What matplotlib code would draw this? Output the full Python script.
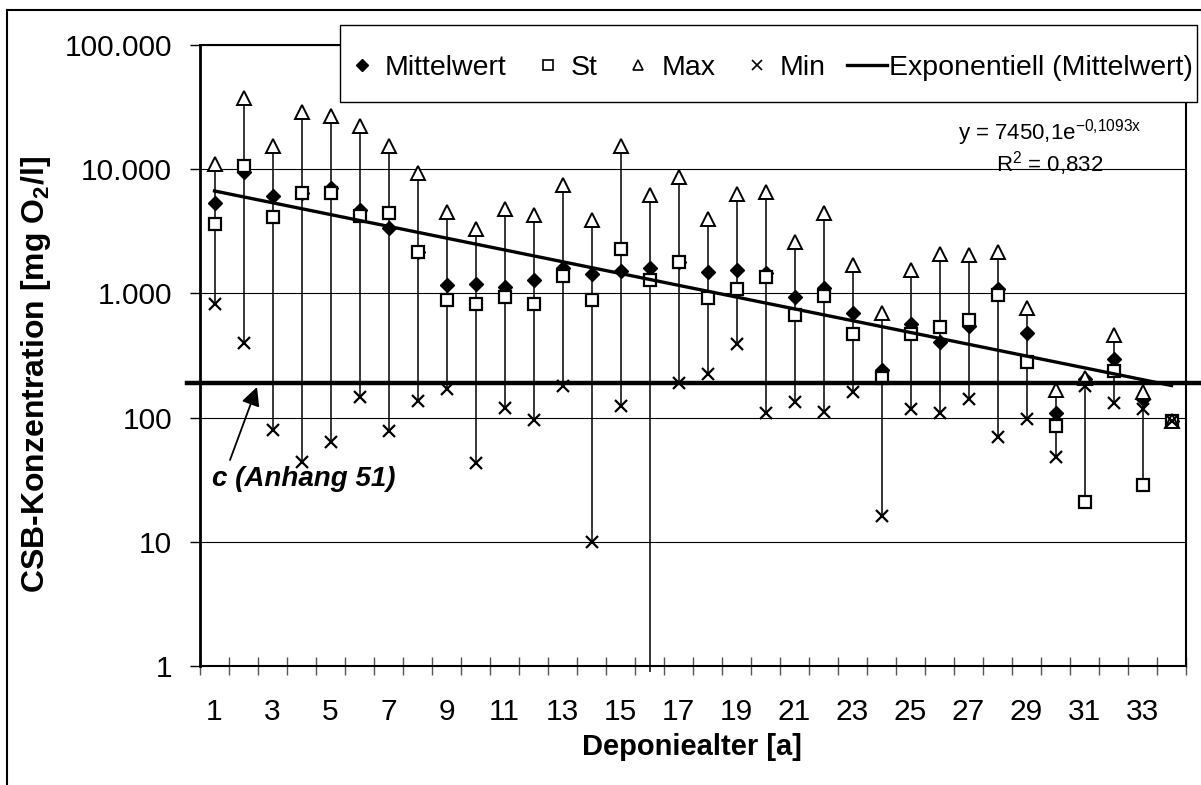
import numpy as np
import matplotlib
matplotlib.use("Agg")
import matplotlib.pyplot as plt
from matplotlib.lines import Line2D
from matplotlib.patches import Rectangle
from matplotlib.transforms import blended_transform_factory

plt.rcParams['font.family'] = ['Liberation Sans', 'DejaVu Sans']
plt.rcParams['mathtext.fontset'] = 'custom'
plt.rcParams['mathtext.rm'] = 'Liberation Sans'
plt.rcParams['mathtext.it'] = 'Liberation Sans:italic'
plt.rcParams['mathtext.bf'] = 'Liberation Sans:bold'

# Deponiealter [a]
alter = np.arange(1, 35)

# CSB values [mg O2/l]
mittel = [5320, 9580, 6090, 6450, 7110, 4700, 3390, 2170, 1167, 1197,
          1125, 1274, 1592, 1422, 1513, 1612, 1800, 1496, 1542, 1469,
          934, 1112, 690, 241, 563, 405, 542, 1092, 482, 109,
          205, 294, 142, 94]
st = [3650, 10640, 4150, 6490, 6490, 4200, 4420, 2170, 883, 815,
      934, 826, 1380, 883, 2264, 1280, 1800, 923, 1076, 1364,
      668, 951, 467, 209, 467, 539, 606, 970, 279, 86,
      21, 236, 28.5, 94]
maxv = [11000, 37400, 15250, 29000, 26900, 22300, 15400, 9400, 4530, 3330,
        4820, 4280, 7430, 3880, 15250, 6170, 8730, 3950, 6280, 6560,
        2595, 4420, 1690, 698, 1532, 2064, 2024, 2153, 766, 166,
        209, 461, 160, 94]
# min of year 16 is below the axis (0)
minv = [826, 400, 80, 44, 64, 147, 78, 135, 170, 43,
        120, 95, 181, 10, 123, np.nan, 190, 225, 395, 109,
        133, 111, 161, 16, 118, 108, 142, 70, 98, 48,
        181, 130, 118, 94]

# trendline as given in the chart
trend_a = 7450.1
trend_b = -0.1093
r2_text = "0,832"

# Anhang 51 limit
c_limit = 190

y_ticks = [1, 10, 100, 1000, 10000, 100000]
y_labels = ["1", "10", "100", "1.000", "10.000", "100.000"]
x_labels = [str(i) for i in range(1, 34, 2)]

W, H = 1201, 785
def fx(px):
    return px / W
def fy(py):
    return 1 - py / H

fig = plt.figure(figsize=(W / 100, H / 100), dpi=100)
ax = fig.add_axes([fx(200), fy(666), (1186 - 200) / W, (666 - 45) / H])

# hi-lo lines span all four series (like excel)
allv = np.array([mittel, st, maxv, minv], dtype=float)
minarr = np.array(minv, dtype=float)
low = np.nanmin(allv, axis=0)
low = np.where(np.isnan(minarr), 0.9, low)
high = np.nanmax(allv, axis=0)
ax.vlines(alter, low, high, color='black', lw=1.1, zorder=2, clip_on=False)

ax.plot(alter, mittel, ls='none', marker='D', ms=7, mfc='black', mec='black', zorder=3)
ax.plot(alter, st, ls='none', marker='s', ms=8.5, mfc='white', mec='black', mew=1.6, zorder=3)
ax.plot(alter, maxv, ls='none', marker='^', ms=9.5, mfc='white', mec='black', mew=1.4, zorder=3)
ax.plot(alter, minarr, ls='none', marker='x', ms=9, mec='black', mew=1.6, zorder=3)

trend = trend_a * np.exp(trend_b * alter)
ax.plot(alter, trend, color='black', lw=2.4, zorder=4)

tr = blended_transform_factory(ax.transAxes, ax.transData)
ax.plot([-0.013, 1.03], [c_limit, c_limit], color='black', lw=3.2,
        transform=tr, clip_on=False, zorder=5)

ax.set_yscale('log')
ax.set_ylim(1, 100000)
ax.set_xlim(0.5, 34.5)

ax.set_yticks(y_ticks)
ax.set_yticklabels(y_labels)
ax.yaxis.set_minor_locator(matplotlib.ticker.NullLocator())
ax.tick_params(axis='y', direction='out', length=7, width=1, labelsize=21.5, pad=13)

ax.set_xticks(np.arange(0.5, 35, 1))
ax.set_xticklabels([])
ax.set_xticks(np.arange(1, 34, 2), minor=True)
ax.set_xticklabels(x_labels, minor=True)
ax.tick_params(axis='x', which='major', direction='inout', length=13, width=1, color='#555555')
ax.tick_params(axis='x', which='minor', length=0, labelsize=21.5, pad=23)

ax.yaxis.grid(True, which='major', color='black', lw=0.8)
ax.set_axisbelow(True)
for s in ax.spines.values():
    s.set_color('black')
    s.set_linewidth(1.5)
ax.spines['left'].set_linewidth(2)

fig.text(fx(692), fy(747), "Deponiealter [a]", fontsize=21, fontweight='bold',
         ha='center', va='center')
fig.text(fx(36), fy(375), "CSB-Konzentration [mg O$_\\mathbf{2}$/l]", fontsize=23,
         fontweight='bold', rotation=90, ha='center', va='center')

# trendline equation (one text block, two lines)
eq = "y = 7450,1e$^{\\mathrm{-0{,}1093x}}$\nR$^{\\mathrm{2}}$ = " + r2_text
fig.text(fx(1050), fy(148), eq, fontsize=16, ha='center', va='center',
         multialignment='center', linespacing=1.05)

# c (Anhang 51) annotation
fig.text(fx(304), fy(479), "c (Anhang 51)", fontsize=20, fontweight='bold',
         fontstyle='italic', ha='center', va='center')
ax.annotate("", xy=(257, H - 387), xycoords='figure pixels',
            xytext=(230, H - 460), textcoords='figure pixels',
            arrowprops=dict(arrowstyle='-|>', color='black', lw=1.3,
                            mutation_scale=28, shrinkA=0, shrinkB=0))

# legend box drawn separately (excel box is tall and tight at the sides)
box = Rectangle((fx(340), fy(102)), fx(1197 - 340), (102 - 25) / H,
                transform=fig.transFigure, facecolor='white', edgecolor='black',
                lw=1, zorder=4.5)
fig.add_artist(box)

handles = [
    Line2D([], [], ls='none', marker='D', ms=6, mfc='black', mec='black'),
    Line2D([], [], ls='none', marker='s', ms=6.5, mfc='white', mec='black', mew=1.2),
    Line2D([], [], ls='none', marker='^', ms=7, mfc='white', mec='black', mew=1.2),
    Line2D([], [], ls='none', marker='x', ms=6.5, mec='black', mew=1.2),
    Line2D([], [], color='black', lw=2.4),
]
labels = ["Mittelwert", "St", "Max", "Min", "Exponentiell (Mittelwert)"]
leg = fig.legend(handles, labels, loc='center',
                 bbox_to_anchor=(fx((340 + 1197) / 2 - 1), fy(68)),
                 ncol=5, frameon=False, borderpad=0, handlelength=1.4,
                 handletextpad=0.1, columnspacing=0.75, borderaxespad=0,
                 fontsize=20.5)
leg.set_zorder(5)

# outer border of the chart
fig.add_artist(Line2D([fx(7), fx(7)], [0, fy(10)], color='black', lw=1.5))
fig.add_artist(Line2D([fx(7), 1], [fy(10), fy(10)], color='black', lw=1.5))

fig.savefig("out.png", dpi=100)
